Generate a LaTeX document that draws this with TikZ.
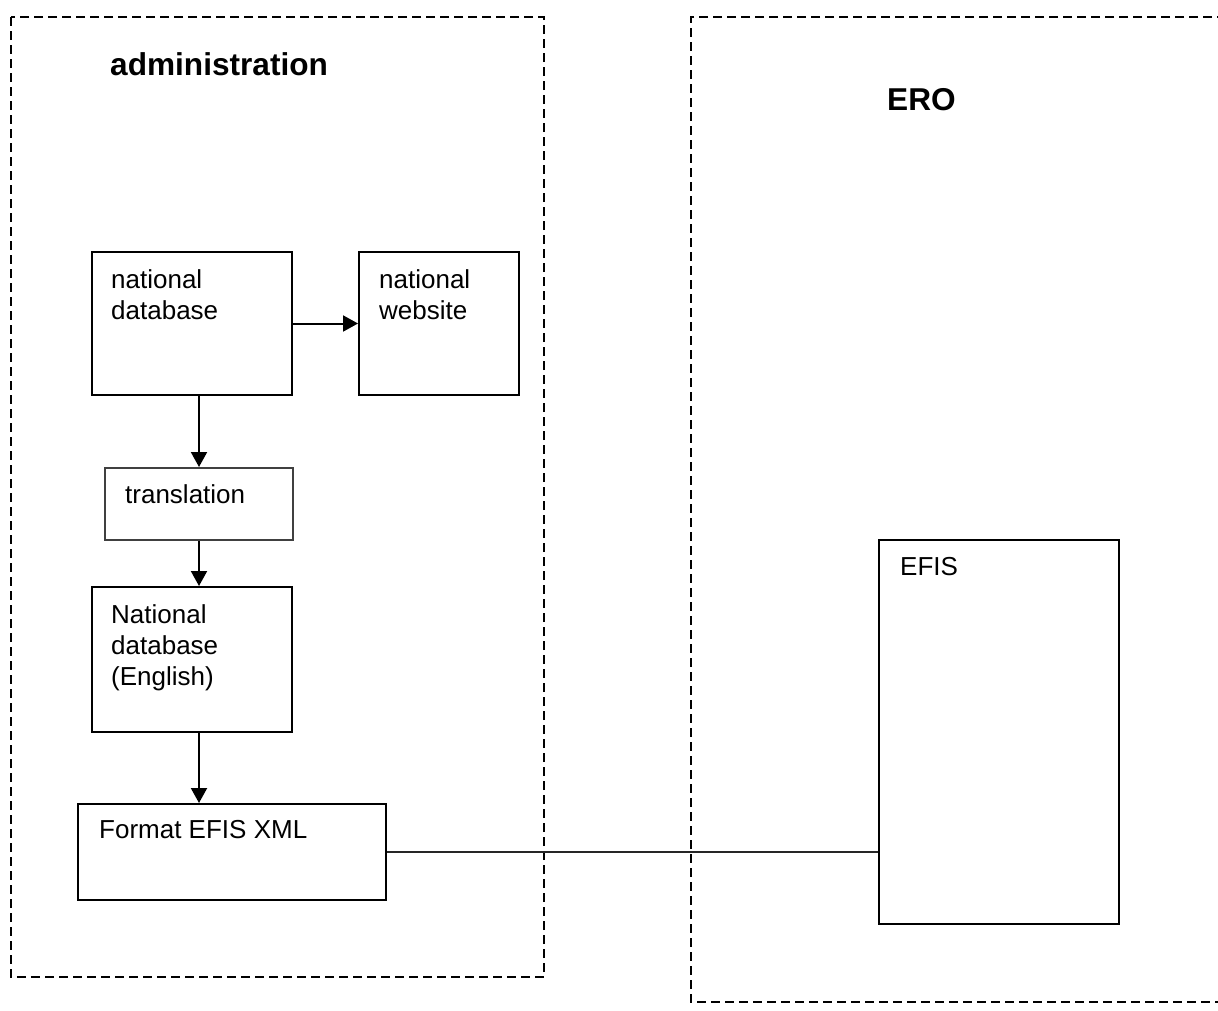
\documentclass[tikz,border=0pt]{standalone}
\usepackage{fontspec}
\setmainfont{Liberation Sans}
\usepackage{tikz}
\usetikzlibrary{arrows.meta, calc}
\definecolor{boxgray}{gray}{0.25}
\definecolor{linegray}{gray}{0.15}

\tikzset{
  box/.style={draw, line width=2pt, anchor=north west, inner sep=0pt},
  region/.style={line width=2pt, dash pattern=on 9pt off 5pt},
  lbl/.style={anchor=north west, inner sep=0pt, align=left, font=\fontsize{26}{31}\selectfont},
  heading/.style={anchor=base west, inner sep=0pt, font=\fontsize{31.6}{36}\selectfont\bfseries},
  flow/.style={line width=2pt, -{Triangle[length=15pt, width=16pt]}},
}

\begin{document}
\begin{tikzpicture}[x=1pt, y=-1pt]
  \useasboundingbox (0, 0) rectangle (1218, 1010);
  \clip (0, 0) rectangle (1218, 1010);

  % the two regions
  \draw[region] (11, 17) rectangle (544, 977);
  \draw[region] (1240, 17) -- (691, 17) -- (691, 1002) -- (1240, 1002);

  \node[heading] (admin) at (110, 75) {administration};
  \node[heading] (ero) at (887, 110) {ERO};

  % boxes
  \node[box, minimum width=200, minimum height=143] (natdb) at (91, 251) {};
  \node[box, minimum width=160, minimum height=143] (natweb) at (358, 251) {};
  \node[box, draw=boxgray, minimum width=188, minimum height=72] (transl) at (104, 467) {};
  \node[box, minimum width=200, minimum height=145] (natdben) at (91, 586) {};
  \node[box, minimum width=308, minimum height=96] (fmt) at (77, 803) {};
  \node[box, minimum width=240, minimum height=384] (efis) at (878, 539) {};

  % texts
  \node[lbl] (natdb-txt) at ($(natdb.north west) + (20, 18)$) {national\\database};
  \node[lbl] (natweb-txt) at ($(natweb.north west) + (21, 18)$) {national\\website};
  \node[lbl] (transl-txt) at ($(transl.north west) + (21, 17)$) {translation};
  \node[lbl] (natdben-txt) at ($(natdben.north west) + (20, 18)$) {National\\database\\(English)};
  \node[lbl] (fmt-txt) at ($(fmt.north west) + (22, 17)$) {Format EFIS XML};
  \node[lbl] (efis-txt) at ($(efis.north west) + (22, 18)$) {EFIS};

  % connectors
  \draw[flow] (natdb.east) -- (natweb.west);
  \draw[flow] (transl.north |- natdb.south) -- (transl.north);
  \draw[flow] (transl.south) -- (transl.south |- natdben.north);
  \draw[flow] (transl.south |- natdben.south) -- (transl.south |- fmt.north);
  \draw[line width=1.6pt, color=linegray] (fmt.east) -- (fmt.east -| efis.west);
\end{tikzpicture}
\end{document}
